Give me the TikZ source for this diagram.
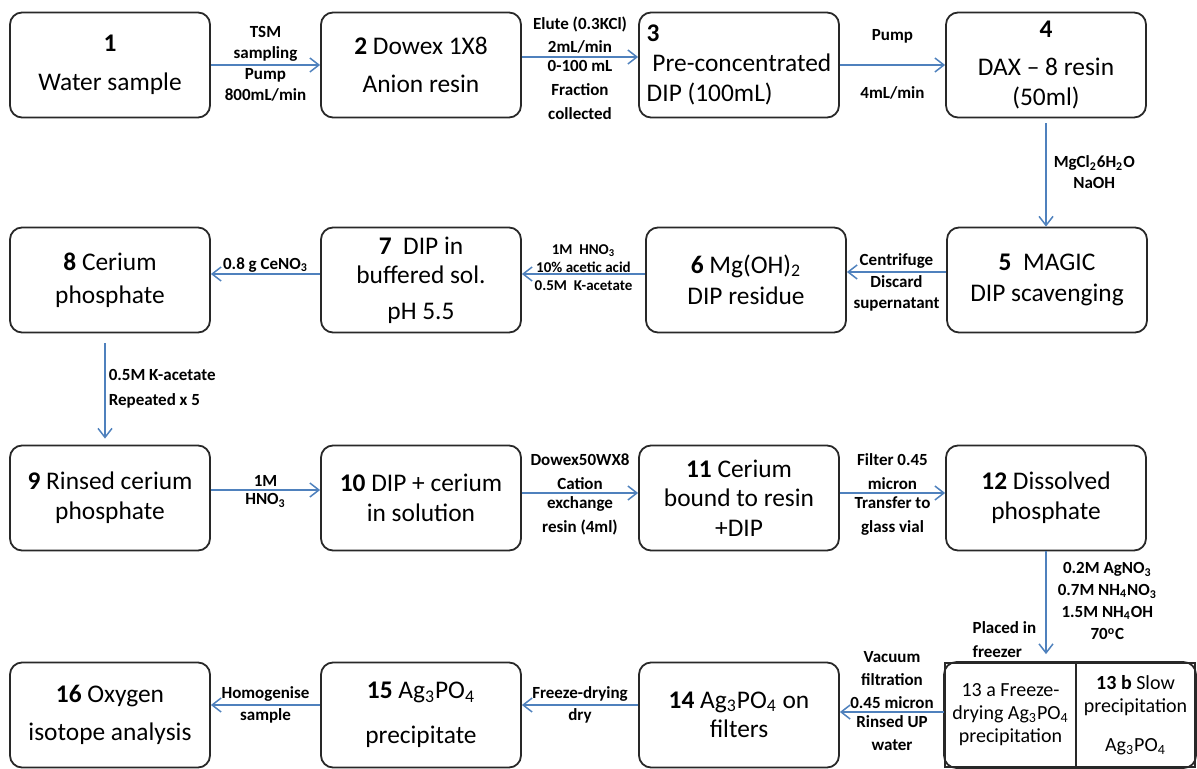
\documentclass[tikz,border=0pt]{standalone}
\usepackage{fontspec}
\setmainfont{Carlito}
\usepackage{tikz}
\usetikzlibrary{arrows.meta}
\usepackage{xcolor}
\definecolor{flowblue}{RGB}{79,129,189}
\definecolor{boxgray}{RGB}{40,40,40}

\begin{document}
\begin{tikzpicture}[x=0.5pt,y=-0.5pt]
    \tikzset{box/.style = {shape=rectangle,draw=boxgray,line width=0.9pt,
        rounded corners=6pt,minimum width=100pt,minimum height=52.5pt,
        inner sep=1pt,align=center,font=\fontsize{12.7}{14.8}\selectfont}}
    \tikzset{splitbox/.style = {shape=rectangle,draw=boxgray,line width=0.9pt,
        minimum height=52pt,inner sep=1pt,align=center,
        font=\fontsize{10}{11.5}\selectfont}}
    \tikzset{edge/.style = {-{Straight Barb[length=4.5pt,width=7pt]},
        draw=flowblue,line width=0.75pt}}
    \tikzset{lbl/.style = {font=\bfseries\fontsize{8.5}{10.5}\selectfont,
        align=center,inner sep=1.5pt}}
    \useasboundingbox (0,0) rectangle (1197,769);
    % boxes
    \node[box] (1) at (110,65) {\textbf{1}\\[4.5pt]Water sample};
    \node[box] (2) at (421,65) {\textbf{2} Dowex 1X8\\[4.5pt]Anion resin};
    \node[box,align=left] (3) at (739,65) {\textbf{3}\\\ Pre-concentrated\\DIP (100mL)};
    \node[box] (4) at (1046,65) {\textbf{4}\\[4.5pt]DAX -- 8 resin\\(50ml)};
    \node[box] (8) at (110,280) {\textbf{8} Cerium\\[1.5pt]phosphate};
    \node[box] (7) at (421,280) {\textbf{7}\ \ DIP in\\buffered sol.\\[3pt]pH 5.5};
    \node[box] (6) at (746,280) {\textbf{6} Mg(OH)\textsubscript{2}\\[1pt]DIP residue};
    \node[box] (5) at (1047,280) {\textbf{5}\ \ MAGIC\\[1pt]DIP scavenging};
    \node[box] (9) at (110,498) {\textbf{9} Rinsed cerium\\phosphate};
    \node[box] (10) at (421,498) {\textbf{10} DIP + cerium\\in solution};
    \node[box] (11) at (739,498) {\textbf{11} Cerium\\bound to resin\\+DIP};
    \node[box] (12) at (1046,498) {\textbf{12} Dissolved\\phosphate};
    \node[box] (16) at (110,715) {\textbf{16} Oxygen\\[4.5pt]isotope analysis};
    \node[box] (15) at (421,715) {\textbf{15} Ag\textsubscript{3}PO\textsubscript{4}\\[7.5pt]precipitate};
    \node[box] (14) at (739,715) {\textbf{14} Ag\textsubscript{3}PO\textsubscript{4} on\\filters};
    \node[splitbox,minimum width=65.5pt] (13a) at (1010.5,715) {13 a Freeze-\\drying Ag\textsubscript{3}PO\textsubscript{4}\\precipitation};
    \node[splitbox,minimum width=59.5pt] (13b) at (1135.5,715) {\textbf{13 b} Slow\\precipitation\\[8pt]Ag\textsubscript{3}PO\textsubscript{4}};
    \draw[draw=boxgray,line width=0.9pt,rounded corners=6pt] (13a.north west) rectangle (13b.south east);

    %arrows
    \draw[edge] (1) -- node[lbl,above] {TSM\\sampling} node[lbl,below] {Pump\\800mL/min} (2);
    \draw[edge] ([yshift=4pt]2.east) -- node[lbl,above,font=\bfseries\fontsize{8.5}{11.5}\selectfont] {Elute (0.3KCl)\\2mL/min} node[lbl,below,font=\bfseries\fontsize{8.5}{12}\selectfont] {0-100 mL\\Fraction\\collected} ([yshift=4pt]3.west);
    \draw[edge] (3) -- node[lbl,above=9pt] {Pump} node[lbl,below=9pt] {4mL/min} (4);
    \draw[edge,shorten <=2.5pt] (4.south) -- node[lbl,right=2pt] {MgCl\textsubscript{2}6H\textsubscript{2}O\\NaOH} (4.south |- 5.north);
    \draw[edge] ([yshift=4pt]5.west) -- node[lbl,above] {Centrifuge} node[lbl,below] {Discard\\supernatant} ([yshift=4pt]6.east);
    \draw[edge] ([yshift=3pt]6.west) -- node[lbl,yshift=3pt,font=\bfseries\fontsize{7.5}{9}\selectfont] {1M\ \ HNO\textsubscript{3}\\10\% acetic acid\\0.5M\ \ K-acetate} ([yshift=3pt]7.east);
    \draw[edge] ([yshift=3pt]7.west) -- node[lbl,above,inner sep=0.5pt] {0.8 g CeNO\textsubscript{3}} ([yshift=3pt]8.east);
    \draw[edge,shorten <=5pt,shorten >=3pt] ([xshift=-2.5pt]8.south) -- node[lbl,right,align=left] {0.5M K-acetate\\[2pt]Repeated x 5} ([xshift=-2.5pt]9.north);
    \draw[edge] ([yshift=4pt]9.east) -- node[lbl,above] {1M} node[lbl,below] {HNO\textsubscript{3}} ([yshift=4pt]10.west);
    \draw[edge] ([yshift=2.5pt]10.east) -- node[lbl,above,font=\bfseries\fontsize{8.5}{12}\selectfont] {Dowex50WX8\\Cation} node[lbl,below,font=\bfseries\fontsize{8.5}{12}\selectfont] {exchange\\resin (4ml)} ([yshift=2.5pt]11.west);
    \draw[edge] ([yshift=2.5pt]11.east) -- node[lbl,above,font=\bfseries\fontsize{8.5}{12}\selectfont] {Filter 0.45\\micron} node[lbl,below,font=\bfseries\fontsize{8.5}{12}\selectfont] {Transfer to\\glass vial} ([yshift=2.5pt]12.west);
    \draw[edge,shorten >=4pt] (12.south) -- node[lbl,right=4pt,pos=0.45,font=\bfseries\fontsize{8.5}{11}\selectfont] {0.2M AgNO\textsubscript{3}\\0.7M NH\textsubscript{4}NO\textsubscript{3}\\1.5M NH\textsubscript{4}OH\\70\textsuperscript{o}C} node[lbl,left=3pt,pos=0.8,align=left,font=\bfseries\fontsize{8.5}{12}\selectfont] {Placed in\\freezer} (12.south |- 13a.north);
    \draw[edge] ([yshift=1.5pt]13a.west) -- node[lbl,above,font=\bfseries\fontsize{8.5}{11.5}\selectfont] {Vacuum\\filtration\\0.45 micron} node[lbl,below,font=\bfseries\fontsize{8.5}{11.5}\selectfont] {Rinsed UP\\water} ([yshift=1.5pt]14.east);
    \draw[edge] ([yshift=5pt]14.west) -- node[lbl,above] {Freeze-drying} node[lbl,below] {dry} ([yshift=5pt]15.east);
    \draw[edge] ([yshift=5pt]15.west) -- node[lbl,above] {Homogenise} node[lbl,below] {sample} ([yshift=5pt]16.east);
\end{tikzpicture}
\end{document}
